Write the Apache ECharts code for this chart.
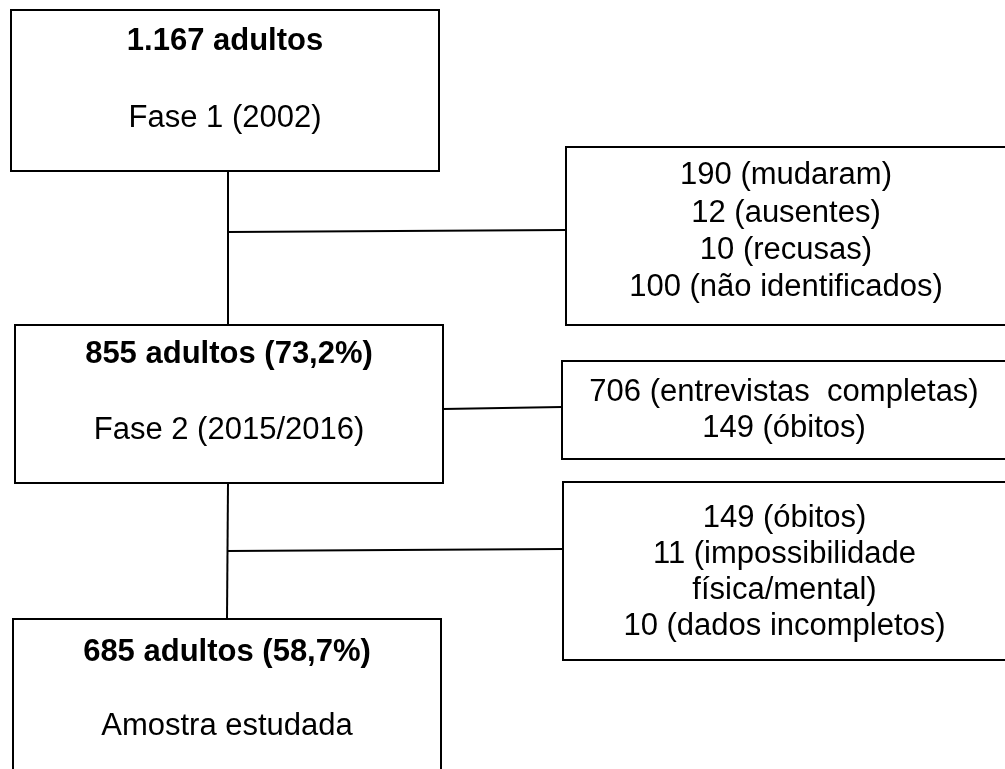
<!DOCTYPE html>
<html lang="pt">

<head>
    <meta charset="UTF-8">
    <title>Fluxograma da amostra</title>
    <script src="https://cdn.jsdelivr.net/npm/echarts@6/dist/echarts.min.js"></script>
    <style>
        body { margin: 0; background: #fff; }
    </style>
</head>

<body>
    <div id="main" style="width: 1005px;height:769px;"></div>

    <script type="text/javascript">
        // textos de cada caixa (primeira linha em negrito nas caixas da esquerda)
        var boxLabels = [
            ['1.167 adultos', 'Fase 1 (2002)'],
            ['190 (mudaram)', '12 (ausentes)', '10 (recusas)', '100 (não identificados)'],
            ['855 adultos (73,2%)', 'Fase 2 (2015/2016)'],
            ['706 (entrevistas  completas)', '149 (óbitos)'],
            ['149 (óbitos)', '11 (impossibilidade', 'física/mental)', '10 (dados incompletos)'],
            ['685 adultos (58,7%)', 'Amostra estudada']
        ];
        var boldFirst = [true, false, true, false, false, true];

        // layout: caixas [x0, y0, x1, y1] e altura de cada linha de texto
        var boxRects = [
            [11, 10, 439, 171],
            [566, 147, 1008, 325],
            [15, 325, 443, 483],
            [562, 361, 1008, 459],
            [563, 482, 1008, 660],
            [13, 619, 441, 790]
        ];
        var textRows = [
            [41, 118],
            [175, 213, 250, 287],
            [354, 430],
            [392, 428],
            [518, 554, 590, 626],
            [652, 726]
        ];
        // conectores [x0, y0, x1, y1]
        var connectors = [
            [228, 171, 228, 325],
            [228, 232, 566, 230],
            [443, 409, 562, 407],
            [228, 483, 227, 619],
            [227, 551, 563, 549]
        ];

        var myChart = echarts.init(document.getElementById('main'));

        var textData = [];
        boxLabels.forEach(function (lines, b) {
            var r = boxRects[b];
            var cx = (r[0] + Math.min(r[2], 1006)) / 2;
            lines.forEach(function (t, i) {
                textData.push({ value: [cx, textRows[b][i]], name: t, bold: boldFirst[b] && i === 0 });
            });
        });

        var option = {
            animation: false,
            grid: { left: 0, right: 0, top: 0, bottom: 0 },
            xAxis: { type: 'value', min: 0, max: 1005, show: false },
            yAxis: { type: 'value', min: 0, max: 769, inverse: true, show: false },
            series: [
                {
                    type: 'custom',
                    name: 'conectores',
                    data: connectors,
                    renderItem: function (params, api) {
                        var p0 = api.coord([api.value(0), api.value(1)]);
                        var p1 = api.coord([api.value(2), api.value(3)]);
                        return {
                            type: 'line',
                            shape: { x1: p0[0], y1: p0[1], x2: p1[0], y2: p1[1] },
                            style: { stroke: '#000', lineWidth: 2 }
                        };
                    }
                },
                {
                    type: 'custom',
                    name: 'caixas',
                    data: boxRects,
                    renderItem: function (params, api) {
                        var p0 = api.coord([api.value(0), api.value(1)]);
                        var p1 = api.coord([api.value(2), api.value(3)]);
                        return {
                            type: 'rect',
                            shape: { x: p0[0], y: p0[1], width: p1[0] - p0[0], height: p1[1] - p0[1] },
                            style: { fill: 'rgba(0,0,0,0)', stroke: '#000', lineWidth: 2 }
                        };
                    }
                },
                {
                    type: 'custom',
                    name: 'textos',
                    data: textData,
                    renderItem: function (params, api) {
                        var item = textData[params.dataIndex];
                        var p = api.coord(item.value);
                        return {
                            type: 'text',
                            x: p[0],
                            y: p[1],
                            style: {
                                text: item.name,
                                fontFamily: 'Liberation Sans, Arial, sans-serif',
                                fontSize: 31,
                                fontWeight: item.bold ? 'bold' : 'normal',
                                fill: '#000',
                                align: 'center',
                                verticalAlign: 'middle'
                            }
                        };
                    }
                }
            ]
        };

        myChart.setOption(option);
    </script>
</body>

</html>
